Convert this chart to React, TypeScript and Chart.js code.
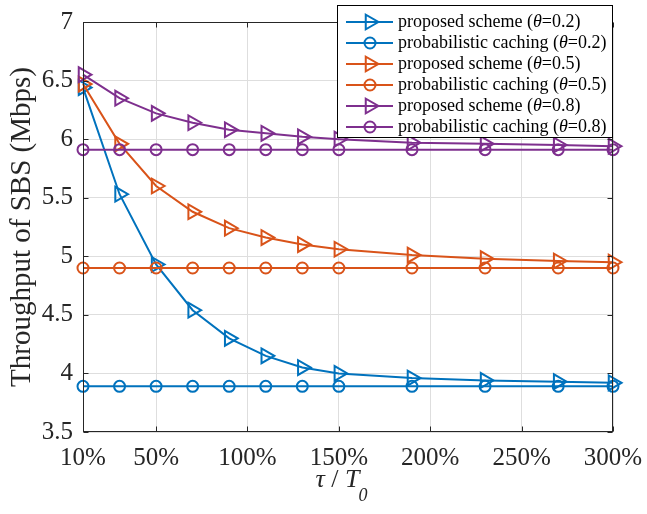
import { useEffect, useRef } from 'react';
import { Chart, registerables } from 'chart.js';

Chart.register(...registerables);

// ---------- data ----------
const xValues = [10, 30, 50, 70, 90, 110, 130, 150, 190, 230, 270, 300];
const xTicks = [10, 50, 100, 150, 200, 250, 300];

const proposed02 = [6.44, 5.53, 4.93, 4.54, 4.30, 4.15, 4.05, 4.00, 3.96, 3.94, 3.93, 3.92];
const caching02 = [3.89, 3.89, 3.89, 3.89, 3.89, 3.89, 3.89, 3.89, 3.89, 3.89, 3.89, 3.89];
const proposed05 = [6.47, 5.96, 5.60, 5.38, 5.24, 5.16, 5.10, 5.06, 5.01, 4.98, 4.96, 4.95];
const caching05 = [4.90, 4.90, 4.90, 4.90, 4.90, 4.90, 4.90, 4.90, 4.90, 4.90, 4.90, 4.90];
const proposed08 = [6.55, 6.35, 6.22, 6.14, 6.08, 6.05, 6.02, 6.00, 5.97, 5.96, 5.95, 5.94];
const caching08 = [5.91, 5.91, 5.91, 5.91, 5.91, 5.91, 5.91, 5.91, 5.91, 5.91, 5.91, 5.91];

const seriesLabels = [
  'proposed scheme (θ=0.2)',
  'probabilistic caching (θ=0.2)',
  'proposed scheme (θ=0.5)',
  'probabilistic caching (θ=0.5)',
  'proposed scheme (θ=0.8)',
  'probabilistic caching (θ=0.8)',
];
const seriesValues = [proposed02, caching02, proposed05, caching05, proposed08, caching08];

const yTitle = 'Throughput of SBS (Mbps)';

// ---------- styles ----------
const BLUE = '#0072BD';
const ORANGE = '#D95319';
const PURPLE = '#7E2F8E';
const seriesColors = [BLUE, BLUE, ORANGE, ORANGE, PURPLE, PURPLE];
const seriesMarkers = ['triangle', 'circle', 'triangle', 'circle', 'triangle', 'circle'];
const TRI_R = 8.5;
const CIRC_R = 5.5;

const FONT = '"Liberation Serif", "Times New Roman", serif';
const AXIS = '#262626';
const GRID = '#dedede';

function drawMarker(ctx: CanvasRenderingContext2D, kind: string, x: number, y: number, color: string) {
  ctx.save();
  ctx.strokeStyle = color;
  ctx.lineWidth = 2;
  ctx.beginPath();
  if (kind === 'triangle') {
    const r = TRI_R;
    ctx.moveTo(x + r, y);
    ctx.lineTo(x - 0.5 * r, y + 0.866 * r);
    ctx.lineTo(x - 0.5 * r, y - 0.866 * r);
    ctx.closePath();
  } else {
    ctx.arc(x, y, CIRC_R, 0, Math.PI * 2);
  }
  ctx.stroke();
  ctx.restore();
}

const decorPlugin = {
  id: 'matlabDecor',
  afterDraw(chart: any) {
    const { ctx, chartArea: a } = chart;
    const xs = chart.scales.x;
    const ys = chart.scales.y;
    ctx.save();

    // axes box
    ctx.strokeStyle = AXIS;
    ctx.lineWidth = 1;
    const L = Math.round(a.left) + 0.5;
    const R = Math.round(a.right) - 0.5;
    const T = Math.round(a.top) + 0.5;
    const B = Math.round(a.bottom) - 0.5;
    ctx.strokeRect(L, T, R - L, B - T);

    // inward ticks
    const tl = 5;
    ctx.beginPath();
    xs.ticks.forEach((t: any) => {
      const px = Math.round(xs.getPixelForValue(t.value)) + 0.5;
      ctx.moveTo(px, B);
      ctx.lineTo(px, B - tl);
      ctx.moveTo(px, T);
      ctx.lineTo(px, T + tl);
    });
    ys.ticks.forEach((t: any) => {
      const py = Math.round(ys.getPixelForValue(t.value)) + 0.5;
      ctx.moveTo(L, py);
      ctx.lineTo(L + tl, py);
      ctx.moveTo(R, py);
      ctx.lineTo(R - tl, py);
    });
    ctx.stroke();

    // x-axis title: τ / T0
    ctx.fillStyle = AXIS;
    ctx.textBaseline = 'alphabetic';
    ctx.textAlign = 'left';
    const fItal = `italic 26px ${FONT}`;
    const fNorm = `26px ${FONT}`;
    const fSub = `italic 18px ${FONT}`;
    ctx.font = fItal;
    const wTau = ctx.measureText('τ').width;
    const wT = ctx.measureText('T').width;
    ctx.font = fNorm;
    const wSl = ctx.measureText(' / ').width;
    ctx.font = fSub;
    const wSub = ctx.measureText('0').width;
    const total = wTau + wSl + wT + wSub;
    let cx = (a.left + a.right) / 2 - 6 - total / 2;
    const base = 487;
    ctx.font = fItal;
    ctx.fillText('τ', cx, base);
    cx += wTau;
    ctx.font = fNorm;
    ctx.fillText(' / ', cx, base);
    cx += wSl;
    ctx.font = fItal;
    ctx.fillText('T', cx, base);
    cx += wT;
    ctx.font = fSub;
    ctx.fillText('0', cx - 1, base + 14);

    // legend
    const bx = 337, by = 5, bw = 275, bh = 132;
    ctx.fillStyle = '#ffffff';
    ctx.fillRect(bx, by, bw, bh);
    ctx.strokeStyle = '#000000';
    ctx.lineWidth = 1;
    ctx.strokeRect(bx + 0.5, by + 0.5, bw, bh);
    const rowY0 = 22, rowStep = 21;
    chart.data.datasets.forEach((ds: any, i: number) => {
      const y = rowY0 + i * rowStep;
      const color = seriesColors[i];
      ctx.strokeStyle = color;
      ctx.lineWidth = 2;
      ctx.beginPath();
      ctx.moveTo(346, y);
      ctx.lineTo(393, y);
      ctx.stroke();
      drawMarker(ctx, seriesMarkers[i], 370, y, color);
      const label: string = ds.label;
      const parts = label.split('θ');
      ctx.fillStyle = '#000000';
      ctx.textBaseline = 'middle';
      let tx = 398;
      ctx.font = `18px ${FONT}`;
      ctx.fillText(parts[0], tx, y);
      tx += ctx.measureText(parts[0]).width;
      if (parts.length > 1) {
        ctx.font = `italic 18px ${FONT}`;
        ctx.fillText('θ', tx, y);
        tx += ctx.measureText('θ').width;
        ctx.font = `18px ${FONT}`;
        ctx.fillText(parts[1], tx, y);
      }
    });

    ctx.restore();
  },
};

export default function App() {
  const ref = useRef<HTMLCanvasElement>(null);

  useEffect(() => {
    document.body.style.margin = '0';
    const canvas = ref.current;
    if (!canvas) return;

    const datasets = seriesValues.map((vals, i) => ({
      label: seriesLabels[i],
      data: xValues.map((x, j) => ({ x, y: vals[j] })),
      borderColor: seriesColors[i],
      backgroundColor: 'rgba(0,0,0,0)',
      borderWidth: 2,
      pointStyle: seriesMarkers[i] as any,
      pointRotation: seriesMarkers[i] === 'triangle' ? 90 : 0,
      pointRadius: seriesMarkers[i] === 'triangle' ? TRI_R : CIRC_R,
      pointHoverRadius: seriesMarkers[i] === 'triangle' ? TRI_R : CIRC_R,
      pointBorderWidth: 2,
      pointBorderColor: seriesColors[i],
      pointBackgroundColor: 'rgba(0,0,0,0)',
      tension: 0,
      clip: false as any,
      order: seriesValues.length - i,
    }));

    const chart = new Chart(canvas, {
      type: 'line',
      data: { datasets },
      options: {
        animation: false,
        responsive: false,
        maintainAspectRatio: false,
        events: [],
        layout: { padding: { left: 0, right: 34, top: 22, bottom: 0 } },
        plugins: {
          legend: { display: false },
          tooltip: { enabled: false },
        },
        scales: {
          x: {
            type: 'linear',
            min: 10,
            max: 300,
            afterBuildTicks: (s: any) => {
              s.ticks = xTicks.map((v) => ({ value: v }));
            },
            afterFit: (s: any) => {
              s.height = 82;
              s.paddingLeft = 0;
              s.paddingRight = 0;
            },
            grid: { color: GRID, drawTicks: false, lineWidth: 1 },
            border: { display: false },
            ticks: {
              font: { family: FONT, size: 25 },
              color: AXIS,
              padding: 11,
              autoSkip: false,
              maxRotation: 0,
              callback: (v: any) => `${v}%`,
            },
          },
          y: {
            type: 'linear',
            min: 3.5,
            max: 7,
            afterFit: (s: any) => {
              s.width = 83;
              s.paddingTop = 0;
              s.paddingBottom = 0;
            },
            grid: { color: GRID, drawTicks: false, lineWidth: 1 },
            border: { display: false },
            ticks: {
              stepSize: 0.5,
              font: { family: FONT, size: 25 },
              color: AXIS,
              padding: 10,
              callback: (v: any) => String(v),
            },
            title: {
              display: true,
              text: yTitle,
              font: { family: FONT, size: 29 },
              color: AXIS,
              padding: { top: 5, bottom: 0 },
            },
          },
        },
      },
      plugins: [decorPlugin],
    });

    return () => chart.destroy();
  }, []);

  return <canvas ref={ref} width={647} height={514} style={{ display: 'block' }} />;
}
